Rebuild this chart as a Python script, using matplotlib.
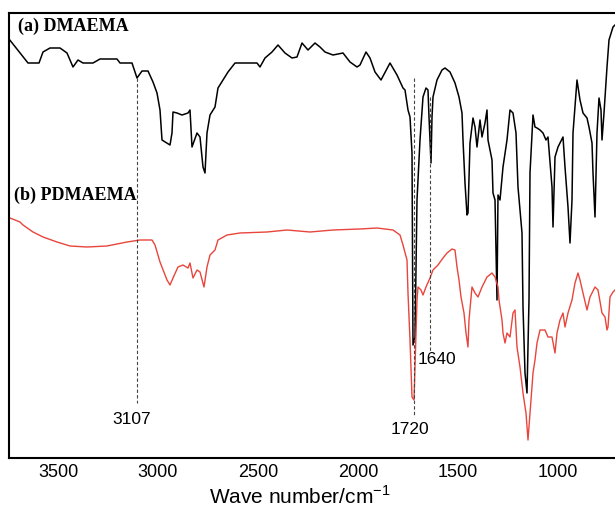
import matplotlib
matplotlib.use('Agg')
import matplotlib.pyplot as plt

# DMAEMA spectrum (wave number cm-1, transmittance a.u.)
wn_a = [3745, 3650, 3595, 3575, 3540, 3490, 3455, 3425, 3400, 3375, 3325, 3290, 3205, 3190, 3130,
        3105, 3080, 3050, 3025, 3005, 2990, 2980, 2940, 2930, 2925, 2905, 2880, 2850, 2840, 2830,
        2805, 2790, 2775, 2765, 2755, 2740, 2715, 2700, 2675, 2650, 2615, 2505, 2490, 2465, 2430,
        2400, 2365, 2330, 2305, 2280, 2250, 2215, 2190, 2165, 2125, 2075, 2040, 2005, 1990, 1960,
        1940, 1915, 1885, 1840, 1805, 1775, 1765, 1750, 1740, 1730, 1725, 1715, 1705, 1690, 1675,
        1660, 1650, 1645, 1635, 1630, 1625, 1605, 1580, 1565, 1540, 1515, 1495, 1480, 1475, 1465,
        1455, 1450, 1440, 1425, 1415, 1405, 1390, 1380, 1365, 1355, 1350, 1330, 1325, 1315, 1305,
        1300, 1290, 1275, 1255, 1240, 1225, 1210, 1200, 1180, 1175, 1165, 1155, 1145, 1140, 1125,
        1115, 1105, 1090, 1075, 1060, 1050, 1030, 1025, 1015, 1000, 975, 965, 950, 940, 930,
        925, 905, 890, 875, 855, 845, 830, 825, 815, 805, 795, 785, 780, 770, 755,
        745, 725, 715]
t_a = [419, 395, 395, 406, 410, 410, 405, 391, 398, 395, 395, 399, 399, 395, 395,
       380, 387, 387, 376, 365, 348, 318, 313, 325, 346, 345, 343, 345, 348, 311,
       325, 321, 291, 285, 325, 343, 351, 370, 378, 386, 395, 395, 391, 400, 406,
       413, 405, 400, 401, 415, 408, 415, 411, 406, 403, 405, 396, 391, 393, 406,
       400, 386, 378, 395, 383, 370, 368, 348, 341, 305, 113, 121, 258, 318, 361,
       370, 368, 341, 295, 341, 361, 378, 388, 390, 386, 375, 361, 345, 318, 275,
       243, 245, 315, 340, 331, 311, 338, 321, 335, 348, 318, 298, 265, 258, 158,
       263, 258, 291, 318, 348, 345, 325, 271, 225, 151, 85, 65, 158, 285, 343,
       331, 330, 328, 325, 318, 321, 271, 231, 301, 311, 321, 291, 251, 215, 258,
       325, 378, 358, 345, 340, 331, 315, 285, 241, 325, 360, 348, 318, 345, 391,
       418, 431, 433]

# PDMAEMA spectrum
wn_b = [3740, 3690, 3675, 3625, 3575, 3505, 3440, 3355, 3255, 3155, 3090, 3030, 3015, 2990, 2955,
        2940, 2925, 2900, 2875, 2850, 2840, 2825, 2805, 2790, 2770, 2755, 2740, 2715, 2700, 2655,
        2590, 2455, 2355, 2240, 2125, 1990, 1905, 1825, 1790, 1775, 1755, 1750, 1740, 1730, 1720,
        1715, 1705, 1700, 1685, 1675, 1660, 1640, 1625, 1600, 1575, 1555, 1530, 1515, 1505, 1495,
        1485, 1470, 1460, 1450, 1445, 1430, 1415, 1400, 1380, 1355, 1330, 1315, 1300, 1295, 1280,
        1275, 1265, 1255, 1240, 1225, 1215, 1205, 1190, 1175, 1160, 1150, 1135, 1125, 1115, 1105,
        1090, 1065, 1050, 1030, 1015, 1005, 990, 975, 965, 950, 930, 915, 900, 890, 875,
        855, 840, 815, 800, 780, 765, 755, 750, 740, 725, 715]
t_b = [240, 236, 233, 226, 221, 216, 212, 211, 212, 216, 218, 218, 213, 196, 178,
       173, 180, 191, 193, 190, 195, 180, 188, 186, 171, 191, 203, 208, 218, 223,
       225, 226, 228, 226, 228, 229, 230, 228, 223, 213, 198, 165, 118, 61, 58,
       91, 158, 171, 168, 163, 171, 180, 188, 193, 200, 205, 209, 208, 191, 178,
       161, 145, 125, 111, 138, 171, 165, 161, 171, 181, 185, 181, 171, 158, 138,
       125, 115, 125, 121, 145, 148, 111, 91, 65, 45, 18, 58, 85, 98, 115,
       128, 128, 121, 121, 105, 125, 138, 145, 131, 145, 158, 175, 185, 178, 165,
       148, 161, 171, 168, 145, 141, 128, 131, 161, 166, 168]

# marked bands: (label, position, top, bottom)
band_labels = ['3107', '1720', '1640']
band_pos = [3107, 1720, 1640]
band_top = [380, 380, 361]
band_bottom = [55, 41, 106]

fig = plt.figure(figsize=(6.15, 5.08), dpi=100)
ax = fig.add_axes([9/615, 50/508, 606/615, 445/508])

ax.plot(wn_a, t_a, color='black', linewidth=1.1)
ax.plot(wn_b, t_b, color='#e8453c', linewidth=1.0)

for lab, x, y0, y1 in zip(band_labels, band_pos, band_top, band_bottom):
	ax.plot([x, x], [y0, y1], color='#444444', linewidth=0.8, linestyle=(0, (3, 2)))

ax.text(3130, 38, '3107', ha='center', va='center', fontsize=12.5, family='Liberation Sans')
ax.text(1740, 28, '1720', ha='center', va='center', fontsize=12.5, family='Liberation Sans')
ax.text(1700, 98, '1640', ha='left', va='center', fontsize=12.5, family='Liberation Sans')

ax.text(3700, 432, '(a) DMAEMA', fontsize=13, fontweight='bold', family='Liberation Serif', va='center')
ax.text(3720, 263, '(b) PDMAEMA', fontsize=13, fontweight='bold', family='Liberation Serif', va='center')

ax.set_xlim(3745, 715)
ax.set_ylim(0, 445)
ax.set_xticks([3500, 3000, 2500, 2000, 1500, 1000])
ax.set_yticks([])
ax.tick_params(axis='x', length=0, pad=4, labelsize=13)
for lab in ax.get_xticklabels():
	lab.set_family('Liberation Sans')

ax.spines['right'].set_visible(False)
for s in ['left', 'top', 'bottom']:
	ax.spines[s].set_linewidth(1.5)

ax.set_xlabel('Wave number/cm$^{\\mathregular{-1}}$', fontsize=15, family='Liberation Sans')
ax.xaxis.set_label_coords(0.48, -0.062)

fig.savefig('out.png', dpi=100)
